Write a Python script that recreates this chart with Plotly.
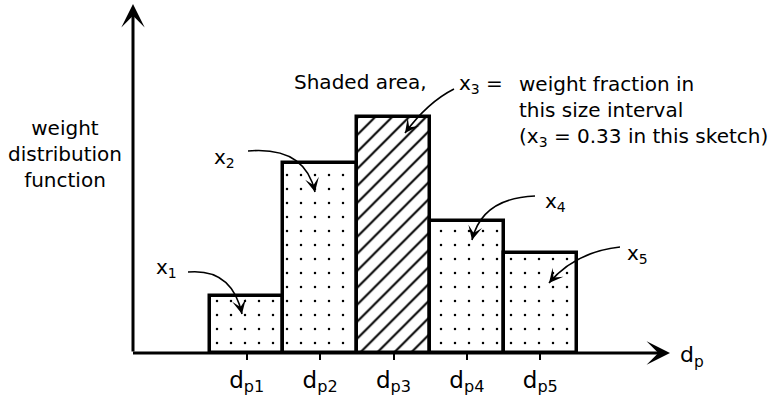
import plotly.graph_objects as go

# ---- data ----
bin_positions = [1, 2, 3, 4, 5]
weight_fractions = [0.08, 0.265, 0.33, 0.185, 0.14]
tick_labels = ["d<sub>p1</sub>", "d<sub>p2</sub>", "d<sub>p3</sub>", "d<sub>p4</sub>", "d<sub>p5</sub>"]
bar_labels = ["x<sub>1</sub>", "x<sub>2</sub>", "x<sub>3</sub> =", "x<sub>4</sub>", "x<sub>5</sub>"]
patterns = [".", ".", "/", ".", "."]

W, H = 774, 397
# pixel <-> data mapping helpers (layout only)
PX0, UX = 210.0, 73.4      # pixel of x=0.5 and pixels per unit
BASE, UY = 353.0, 716.0    # baseline pixel and pixels per unit y


def X(px):
    return 0.5 + (px - PX0) / UX


def Y(py):
    return (BASE - py) / UY


FONT = "DejaVu Sans"

fig = go.Figure()
fig.add_trace(go.Bar(
    x=bin_positions, y=weight_fractions, width=1,
    marker=dict(
        color="white",
        line=dict(color="black", width=3.5),
        pattern=dict(
            shape=patterns,
            fgcolor="black", bgcolor="white", fgopacity=1,
            size=[14, 14, 12, 14, 14],
            solidity=[0.025, 0.025, 0.17, 0.025, 0.025],
            fillmode="overlay",
        ),
    ),
    hoverinfo="skip",
))

annotations = []
shapes = []

# axes arrows
annotations.append(dict(x=X(133), y=Y(4), ax=X(133), ay=Y(353), xref="x", yref="y",
                        axref="x", ayref="y", text="", showarrow=True, arrowhead=3,
                        arrowsize=1.3, arrowwidth=3, arrowcolor="black", standoff=0, startstandoff=0))
annotations.append(dict(x=X(670), y=Y(353), ax=X(131.5), ay=Y(353), xref="x", yref="y",
                        axref="x", ayref="y", text="", showarrow=True, arrowhead=3,
                        arrowsize=1.3, arrowwidth=3, arrowcolor="black", standoff=0, startstandoff=0))

# leader curves (tail, control, tip) in pixels
leaders = [
    ((188, 272), (232, 268), (242, 314)),
    ((248, 151), (305, 146), (315, 192)),
    ((454, 89), (428, 102), (405, 133)),
    ((535, 196), (482, 198), (472, 240)),
    ((620, 247), (575, 252), (549, 283)),
]
for (t, c, p) in leaders:
    path = "M {},{} Q {},{} {},{}".format(X(t[0]), Y(t[1]), X(c[0]), Y(c[1]), X(p[0]), Y(p[1]))
    shapes.append(dict(type="path", path=path, xref="x", yref="y",
                       line=dict(color="black", width=1.6)))
    dx, dy = c[0] - p[0], c[1] - p[1]
    n = (dx * dx + dy * dy) ** 0.5
    annotations.append(dict(x=X(p[0]), y=Y(p[1]), xref="x", yref="y",
                            ax=dx / n * 9, ay=dy / n * 9, text="", showarrow=True,
                            arrowhead=3, arrowsize=1.3, arrowwidth=1.8, arrowcolor="black",
                            standoff=0, startstandoff=0))

# bar labels (text positions in pixels)
label_pos = [(166, 268), (224, 158), (481, 84), (555, 202), (637, 254)]
for lab, (lx, ly) in zip(bar_labels, label_pos):
    annotations.append(dict(x=X(lx), y=Y(ly), xref="x", yref="y", text=lab, showarrow=False,
                            font=dict(family=FONT, size=20, color="black")))

annotations.append(dict(x=X(360), y=Y(82), xref="x", yref="y", text="Shaded area,", showarrow=False,
                        font=dict(family=FONT, size=20, color="black")))
annotations.append(dict(x=X(517), y=Y(111), xref="x", yref="y", xanchor="left", align="left",
                        text="weight fraction in<br>this size interval<br>(x<sub>3</sub> = 0.33 in this sketch)",
                        showarrow=False, font=dict(family=FONT, size=20, color="black")))
annotations.append(dict(x=X(65), y=Y(154), xref="x", yref="y", align="center",
                        text="weight<br>distribution<br>function",
                        showarrow=False, font=dict(family=FONT, size=20, color="black")))
annotations.append(dict(x=X(692), y=Y(356), xref="x", yref="y", text="d<sub>p</sub>",
                        showarrow=False, font=dict(family=FONT, size=22, color="black")))

fig.update_layout(
    width=W, height=H, autosize=False,
    margin=dict(l=0, r=0, t=0, b=0),
    paper_bgcolor="white", plot_bgcolor="white",
    showlegend=False,
    bargap=0,
    xaxis=dict(range=[X(0), X(W)], showgrid=False, zeroline=False, showline=False,
               tickmode="array", tickvals=bin_positions, ticktext=tick_labels,
               ticks="outside", ticklen=6, tickwidth=2, tickcolor="black",
               anchor="free", position=(H - BASE) / H,
               tickfont=dict(family=FONT, size=23, color="black"), fixedrange=True),
    yaxis=dict(range=[Y(H), Y(0)], showgrid=False, zeroline=False, showline=False,
               showticklabels=False, ticks="", fixedrange=True),
    annotations=annotations,
    shapes=shapes,
)

fig.write_html("out.html", config={"displayModeBar": False},
               post_script="document.body.style.margin='0';document.body.style.padding='0';")
